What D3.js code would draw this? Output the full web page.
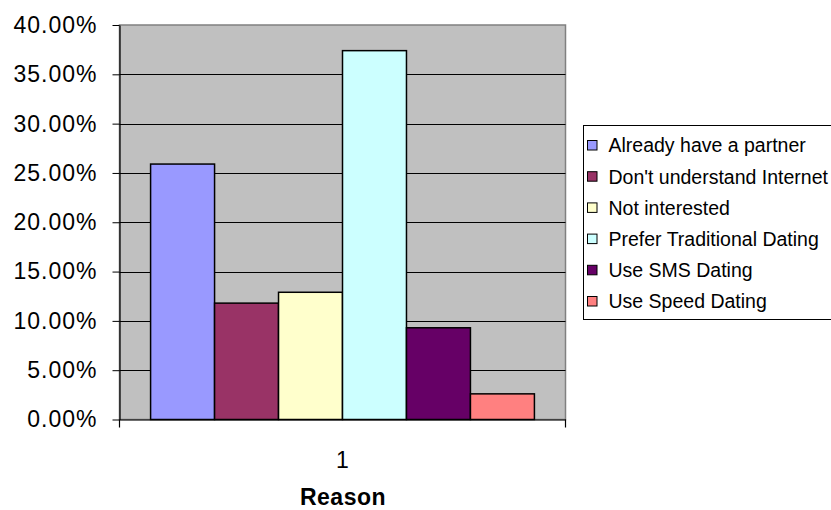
<!DOCTYPE html>
<html>
<head>
<meta charset="utf-8">
<script src="https://cdn.jsdelivr.net/npm/d3@7"></script>
<style>
  html, body { margin: 0; padding: 0; background: #fff; }
  svg { display: block; font-family: "Liberation Sans", Arial, sans-serif; }
</style>
</head>
<body>
<svg id="chart" width="831" height="510"></svg>
<script>
const categories = ["1"];
const seriesNames = ["Already have a partner", "Don't understand Internet", "Not interested",
                     "Prefer Traditional Dating", "Use SMS Dating", "Use Speed Dating"];
const seriesValues = [0.259, 0.118, 0.129, 0.374, 0.093, 0.026];
const seriesColors = ["#9999ff", "#993366", "#ffffcc", "#ccffff", "#660066", "#ff8080"];
const yTicks = [0, 0.05, 0.10, 0.15, 0.20, 0.25, 0.30, 0.35, 0.40];
const xTitle = "Reason";

const svg = d3.select("#chart");
const plot = { left: 119.5, right: 565.5, top: 25, bottom: 419.5 };

const y = d3.scaleLinear().domain([0, 0.40]).range([plot.bottom, plot.top]);
const x0 = d3.scaleBand().domain(categories).range([plot.left, plot.right]).paddingInner(0).paddingOuter(0.081);
const x1 = d3.scaleBand().domain(seriesNames).range([0, x0.bandwidth()]).padding(0);

// plot background
svg.append("rect")
  .attr("x", plot.left).attr("y", plot.top)
  .attr("width", plot.right - plot.left).attr("height", plot.bottom - plot.top)
  .attr("fill", "#c0c0c0").attr("stroke", "#808080").attr("stroke-width", 1.5);

// gridlines
svg.append("g").selectAll("line").data(yTicks.filter(d => d > 0 && d < 0.40)).join("line")
  .attr("x1", plot.left).attr("x2", plot.right)
  .attr("y1", d => Math.round(y(d)) + 0.5).attr("y2", d => Math.round(y(d)) + 0.5)
  .attr("stroke", "#000").attr("stroke-width", 1);

// bars
svg.append("g").selectAll("rect").data(seriesNames.map((n, i) => ({ n, v: seriesValues[i], c: seriesColors[i] })))
  .join("rect")
  .attr("x", d => x0("1") + x1(d.n))
  .attr("y", d => y(d.v))
  .attr("width", x1.bandwidth())
  .attr("height", d => plot.bottom - y(d.v))
  .attr("fill", d => d.c)
  .attr("stroke", "#000").attr("stroke-width", 1.5);

// y axis
const yAxis = d3.axisLeft(y).tickValues(yTicks).tickFormat(d3.format(".2%")).tickSize(7).tickSizeOuter(0);
const gy = svg.append("g").attr("transform", `translate(${plot.left},0)`).call(yAxis);
gy.select(".domain").attr("stroke", "#000").attr("stroke-width", 1.2);
gy.selectAll(".tick line").attr("stroke", "#000");
gy.selectAll(".tick text")
  .attr("x", -22)
  .attr("font-size", 23).attr("letter-spacing", 1).attr("fill", "#000")
  .attr("font-family", "'Liberation Sans', Arial, sans-serif");

// x axis
const xAxis = d3.axisBottom(x0).tickSize(0).tickSizeOuter(0);
const gx = svg.append("g").attr("transform", `translate(0,${plot.bottom})`).call(xAxis);
gx.select(".domain").attr("stroke", "#000").attr("stroke-width", 1.2);
gx.selectAll(".tick text").attr("dy", 0).attr("y", 48)
  .attr("font-size", 23).attr("fill", "#000")
  .attr("font-family", "'Liberation Sans', Arial, sans-serif");
// category boundary ticks
gx.append("g").selectAll("line").data([plot.left, plot.right]).join("line")
  .attr("x1", d => d).attr("x2", d => d).attr("y1", 0).attr("y2", 8)
  .attr("stroke", "#000").attr("stroke-width", 1.2);

// x title
svg.append("text").attr("x", (plot.left + plot.right) / 2 + 0.5).attr("y", 505)
  .attr("text-anchor", "middle").attr("font-weight", "bold").attr("font-size", 23)
  .attr("letter-spacing", 0.5)
  .text(xTitle);

// legend
const lg = svg.append("g").attr("transform", "translate(583.5,125.5)");
lg.append("rect").attr("x", 0).attr("y", 0).attr("width", 300).attr("height", 194)
  .attr("fill", "#fff").attr("stroke", "#000").attr("stroke-width", 1);
const items = lg.selectAll("g.item").data(seriesNames.map((n, i) => ({ n, c: seriesColors[i] })))
  .join("g").attr("class", "item")
  .attr("transform", (d, i) => `translate(0,${20 + i * 31.2})`);
items.append("rect").attr("x", 4).attr("y", -5).attr("width", 9.5).attr("height", 9.5)
  .attr("fill", d => d.c).attr("stroke", "#000").attr("stroke-width", 1);
items.append("text").attr("x", 25).attr("y", 0).attr("dy", "0.35em")
  .attr("font-size", 19.5).attr("fill", "#000")
  .text(d => d.n);
</script>
</body>
</html>
